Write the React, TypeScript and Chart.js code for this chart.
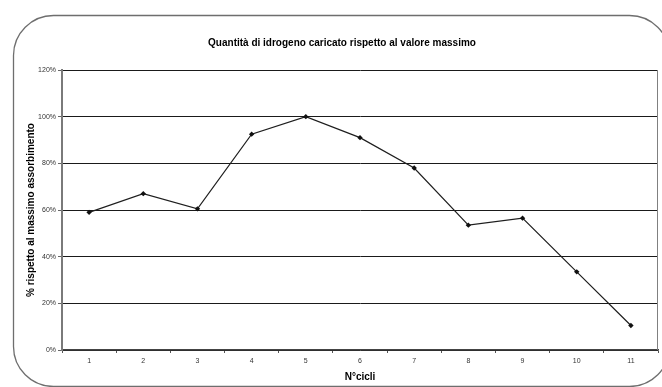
import React, { useEffect, useRef } from "react";
import { Chart, registerables } from "chart.js";

Chart.register(...registerables);

// Cycle numbers on the x axis
const cycles = ["1", "2", "3", "4", "5", "6", "7", "8", "9", "10", "11"];
// Hydrogen charged in each cycle, as % of the maximum absorption
const chargedPct = [59, 67, 60.5, 92.5, 100, 91, 78, 53.5, 56.5, 33.5, 10.5];
// Y axis range and step (percent)
const yMin = 0;
const yMax = 120;
const yStep = 20;

const chartTitle = "Quantità di idrogeno caricato rispetto al valore massimo";
const yTitle = "% rispetto al massimo assorbimento";
const xTitle = "N°cicli";

const FONT = "'Liberation Sans', Arial, Helvetica, sans-serif";

// White page, rounded outer frame and the right edge of the plot box
const framePlugin = {
  id: "frame",
  beforeDraw(chart: any) {
    const { ctx, width, height } = chart;
    ctx.save();
    ctx.fillStyle = "#ffffff";
    ctx.fillRect(0, 0, width, height);
    ctx.strokeStyle = "#6e6e6e";
    ctx.lineWidth = 1.3;
    ctx.beginPath();
    ctx.roundRect(13.5, 15.5, 656, 371, 40);
    ctx.stroke();
    ctx.restore();
  },
  beforeDatasetsDraw(chart: any) {
    const { ctx, chartArea } = chart;
    ctx.save();
    ctx.strokeStyle = "#808080";
    ctx.lineWidth = 1;
    ctx.beginPath();
    ctx.moveTo(Math.round(chartArea.right) - 0.5, chartArea.top);
    ctx.lineTo(Math.round(chartArea.right) - 0.5, chartArea.bottom);
    ctx.stroke();
    ctx.restore();
  },
};

export default function App() {
  const canvasRef = useRef<HTMLCanvasElement | null>(null);

  useEffect(() => {
    document.body.style.margin = "0";
    const canvas = canvasRef.current;
    if (!canvas) return;

    const chart = new Chart(canvas, {
      type: "line",
      data: {
        labels: cycles,
        datasets: [
          {
            data: chargedPct,
            borderColor: "#1e1e1e",
            borderWidth: 1.2,
            backgroundColor: "#111",
            pointStyle: "rectRot",
            pointRadius: 2.7,
            pointBorderWidth: 0,
            pointBackgroundColor: "#111",
            tension: 0,
            fill: false,
          },
        ],
      },
      options: {
        responsive: false,
        animation: false,
        devicePixelRatio: 1,
        layout: { padding: { left: 25, right: 3, top: 0, bottom: 0 } },
        plugins: {
          legend: { display: false },
          tooltip: { enabled: false },
          title: {
            display: true,
            text: chartTitle,
            color: "#000",
            font: { family: FONT, size: 10, weight: "bold" },
            padding: { top: 37, bottom: 21 },
          },
        },
        scales: {
          x: {
            offset: true,
            grid: {
              offset: true,
              drawOnChartArea: false,
              drawTicks: true,
              tickLength: 3,
              tickColor: "#555",
            },
            border: { color: "#444", width: 1.5 },
            ticks: {
              color: "#333",
              font: { family: FONT, size: 7 },
              padding: 4,
              maxRotation: 0,
              autoSkip: false,
            },
            title: {
              display: true,
              text: xTitle,
              color: "#000",
              font: { family: FONT, size: 10, weight: "bold" },
              padding: { top: 0, bottom: 4 },
            },
            afterFit: (s: any) => {
              s.height = 37;
            },
          },
          y: {
            min: yMin,
            max: yMax,
            ticks: {
              stepSize: yStep,
              color: "#333",
              font: { family: FONT, size: 7 },
              padding: 2,
              callback: (v: any) => `${v}%`,
            },
            grid: {
              color: "#1a1a1a",
              lineWidth: 1,
              drawTicks: true,
              tickLength: 4,
              tickColor: "#666",
            },
            border: { color: "#7a7a7a", width: 2 },
            title: {
              display: true,
              text: yTitle,
              color: "#000",
              font: { family: FONT, size: 10, weight: "bold" },
              padding: { top: 0.5, bottom: 0 },
            },
            afterFit: (s: any) => {
              s.width = 37;
            },
          },
        },
      },
      plugins: [framePlugin],
    } as any);

    return () => chart.destroy();
  }, []);

  return (
    <canvas
      ref={canvasRef}
      width={662}
      height={387}
      style={{ display: "block", width: 662, height: 387 }}
    />
  );
}
